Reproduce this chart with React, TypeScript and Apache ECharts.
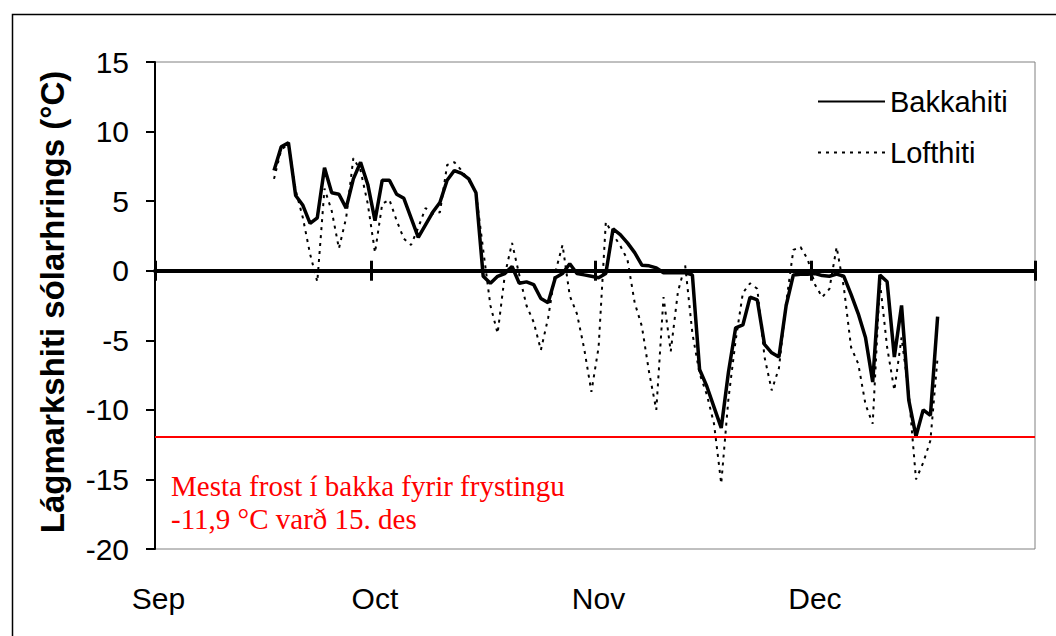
import React, { useEffect, useRef } from 'react';
import * as echarts from 'echarts';

// Days counted from 1 Sep; first measurement is 17 Sep (day index 16)
const FIRST_DAY = 16;
const monthStarts = [0, 30, 61, 91, 122];
const monthLabelDays = [0, 30, 61, 91];
const monthLabels = ['Sep', 'Oct', 'Nov', 'Dec'];

const Y_MIN = -20;
const Y_MAX = 15;
const Y_STEP = 5;

const frostRecord = -11.9;
const noteLines = ['Mesta frost í bakka fyrir frystingu', '-11,9 °C varð 15. des'];
const yTitle = 'Lágmarkshiti sólarhrings (°C)';

const bakkahiti = [
  7.2, 8.9, 9.2, 5.4, 4.7, 3.4, 3.8, 7.4, 5.6, 5.5,
  4.5, 6.6, 7.8, 6.2, 3.6, 6.5, 6.5, 5.5, 5.2, 3.8,
  2.4, 3.3, 4.2, 4.9, 6.5, 7.2, 7.0, 6.6, 5.6, -0.4,
  -0.9, -0.4, -0.2, 0.3, -0.9, -0.8, -1.0, -2.0, -2.3, -0.5,
  -0.2, 0.5, -0.2, -0.3, -0.4, -0.5, -0.2, 3.0, 2.6, 2.0,
  1.3, 0.4, 0.35, 0.2, -0.15, -0.15, -0.15, -0.15, -0.3, -7.1,
  -8.3, -9.8, -11.3, -7.3, -4.1, -3.9, -1.9, -2.1, -5.3, -5.9,
  -6.2, -2.5, -0.3, -0.25, -0.25, -0.2, -0.35, -0.4, -0.25, -0.4,
  -1.7, -3.1, -4.8, -8.0, -0.3, -0.8, -6.2, -2.5, -9.3, -11.9,
  -10.0, -10.4, -3.3,
];

const lofthiti = [
  6.6, 8.7, 9.1, 5.8, 3.8, 1.2, -0.8, 5.9, 4.3, 1.6,
  3.8, 8.1, 7.2, 4.8, 1.3, 4.8, 5.1, 3.6, 2.3, 1.85,
  3.1, 4.5, 4.1, 4.2, 7.6, 7.8, 7.2, 6.5, 5.6, 1.5,
  -2.5, -4.5, -0.3, 2.0, -0.3, -2.5, -3.7, -5.7, -3.4, -0.1,
  1.85, -1.8, -3.1, -5.6, -8.7, -5.5, 3.5, 2.6, 1.8, 0.8,
  -2.3, -4.0, -7.3, -10.0, -1.9, -5.8, -1.5, 0.4, -4.5, -7.4,
  -8.9, -11.0, -15.3, -9.2, -5.0, -1.6, -0.9, -1.3, -6.2, -8.6,
  -7.0, -2.3, 1.5, 1.7, 0.8, -1.0, -1.9, -1.3, 1.7, -1.2,
  -5.5, -6.7, -9.6, -11.0, -0.8, -5.5, -8.6, -4.8, -8.8, -15.0,
  -13.8, -12.2, -6.2,
];

const toPoints = (vals: number[]) => vals.map((v, i) => [FIRST_DAY + i + 0.5, v]);

const SANS = 'Liberation Sans';
const SERIF = 'Liberation Serif';

export default function App() {
  const ref = useRef<HTMLDivElement>(null);

  useEffect(() => {
    if (!ref.current) return;
    const chart = echarts.init(ref.current, null, { renderer: 'svg' });
    const gridLeft = 155;
    const gridTop = 62;
    const gridWidth = 880;
    const gridHeight = 487;

    chart.setOption({
      animation: false,
      backgroundColor: '#ffffff',
      grid: {
        left: gridLeft,
        top: gridTop,
        width: gridWidth,
        height: gridHeight,
        show: true,
        borderColor: '#808080',
        borderWidth: 1,
        backgroundColor: 'transparent',
      },
      legend: {
        orient: 'vertical',
        left: 812,
        top: 82,
        itemWidth: 67,
        itemHeight: 14,
        itemGap: 22,
        itemStyle: { opacity: 0 },
        textStyle: { fontFamily: SANS, fontSize: 29, color: '#000' },
        data: ['Bakkahiti', 'Lofthiti'],
      },
      xAxis: [
        {
          type: 'value',
          min: 0,
          max: 122,
          position: 'bottom',
          axisLine: { show: true, onZero: true, lineStyle: { color: '#000', width: 4 } },
          axisTick: { show: true, customValues: monthStarts, length: 10, lineStyle: { color: '#000', width: 3 } },
          axisLabel: { show: false },
          splitLine: { show: false },
        },
        {
          type: 'value',
          min: 0,
          max: 122,
          position: 'top',
          axisLine: { show: false, onZero: true, onZeroAxisIndex: 0 },
          axisTick: { show: true, customValues: monthStarts, length: 10, lineStyle: { color: '#000', width: 3 } },
          axisLabel: { show: false },
          splitLine: { show: false },
        },
        {
          type: 'value',
          min: 0,
          max: 122,
          position: 'bottom',
          axisLine: { show: false, onZero: false },
          axisTick: { show: false },
          axisLabel: {
            show: true,
            customValues: monthLabelDays,
            formatter: (v: number) => monthLabels[monthLabelDays.indexOf(v)] ?? '',
            fontFamily: SANS,
            fontSize: 30,
            color: '#000',
            margin: 34,
            padding: [0, 0, 0, 7],
          },
          splitLine: { show: false },
        },
      ],
      yAxis: {
        type: 'value',
        min: Y_MIN,
        max: Y_MAX,
        interval: Y_STEP,
        axisLine: { show: true, onZero: false, lineStyle: { color: '#000', width: 2 } },
        axisTick: { show: true, length: 9, lineStyle: { color: '#000', width: 2 } },
        axisLabel: { fontFamily: SANS, fontSize: 30, color: '#000', margin: 26 },
        splitLine: { show: false },
      },
      graphic: [
        {
          type: 'rect',
          left: 10,
          top: 12,
          shape: { width: 1100, height: 700 },
          style: { fill: 'none', stroke: '#000', lineWidth: 1.5 },
          silent: true,
        },
        {
          type: 'text',
          x: 52,
          y: 302,
          rotation: Math.PI / 2,
          style: {
            text: yTitle,
            fontFamily: SANS,
            fontWeight: 'bold',
            fontSize: 33,
            fill: '#000',
            textAlign: 'center',
            textVerticalAlign: 'middle',
          },
        },
        {
          type: 'text',
          x: 171,
          y: 486,
          style: {
            text: noteLines[0],
            fontFamily: SERIF,
            fontSize: 29,
            fill: '#ff0000',
            textAlign: 'left',
            textVerticalAlign: 'middle',
          },
        },
        {
          type: 'text',
          x: 171,
          y: 519,
          style: {
            text: noteLines[1],
            fontFamily: SERIF,
            fontSize: 29,
            fill: '#ff0000',
            textAlign: 'left',
            textVerticalAlign: 'middle',
          },
        },
      ],
      series: [
        {
          name: 'Bakkahiti',
          type: 'line',
          xAxisIndex: 0,
          data: toPoints(bakkahiti),
          symbol: 'none',
          lineStyle: { color: '#000', width: 3.5 },
          itemStyle: { color: '#000' },
          z: 3,
          markLine: {
            silent: true,
            symbol: ['none', 'none'],
            label: { show: false },
            lineStyle: { color: '#ff0000', width: 2, type: 'solid' },
            data: [{ yAxis: frostRecord }],
          },
        },
        {
          name: 'Lofthiti',
          type: 'line',
          xAxisIndex: 0,
          data: toPoints(lofthiti),
          symbol: 'none',
          lineStyle: { color: '#000', width: 2, type: [3, 5] },
          itemStyle: { color: '#000' },
          z: 4,
        },
      ],
    });
    return () => chart.dispose();
  }, []);

  return (
    <div
      ref={ref}
      style={{ position: 'absolute', left: 0, top: 0, width: 1056, height: 636, background: '#fff' }}
    />
  );
}
